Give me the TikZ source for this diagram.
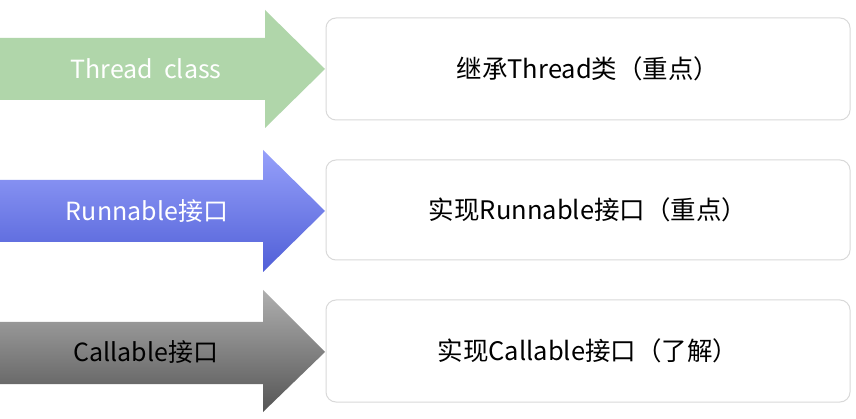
\documentclass[tikz,border=0pt]{standalone}
\usepackage{fontspec}
\setmainfont{Noto Sans CJK SC}
\begin{document}
\begin{tikzpicture}[x=1pt,y=-1pt,
  box/.style={draw=black!15,line width=1pt,rounded corners=10pt,fill=white},
  lbl/.style={font=\fontsize{25.5}{30}\selectfont},
  alab/.style={font=\fontsize{25}{30}\selectfont,anchor=center}]
\useasboundingbox (0,0) rectangle (856,419);
\fill[white] (0,0) rectangle (856,419);
% arrows
\fill[fill={rgb,255:red,176;green,214;blue,170}]
  (0,38) -- (265,38) -- (265,10) -- (325,69) -- (265,128) -- (265,100) -- (0,100) -- cycle;
\shade[top color={rgb,255:red,150;green,160;blue,250},bottom color={rgb,255:red,80;green,95;blue,215}]
  (0,180) -- (263,180) -- (263,150) -- (325,211) -- (263,272) -- (263,242) -- (0,242) -- cycle;
\shade[top color={rgb,255:red,175;green,175;blue,175},bottom color={rgb,255:red,85;green,85;blue,85}]
  (0,322) -- (263,322) -- (263,290) -- (325,352) -- (263,412) -- (263,384) -- (0,384) -- cycle;
\node[alab,text=white] (a1) at (146,69) {Thread\ \ class};
\node[alab,text=white] (a2) at (147,211) {Runnable接口};
\node[alab,text=black] (a3) at (146,352) {Callable接口};
% boxes
\node[box,minimum width=524pt,minimum height=102pt] (b1) at (588,69) {};
\node[box,minimum width=524pt,minimum height=100pt] (b2) at (588,210) {};
\node[box,minimum width=524pt,minimum height=102pt] (b3) at (588,351) {};
\node[lbl] at (b1) {继承Thread类（重点）};
\node[lbl] at (b2) {实现Runnable接口（重点）};
\node[lbl] at (b3) {实现Callable接口（了解）};
\end{tikzpicture}
\end{document}
